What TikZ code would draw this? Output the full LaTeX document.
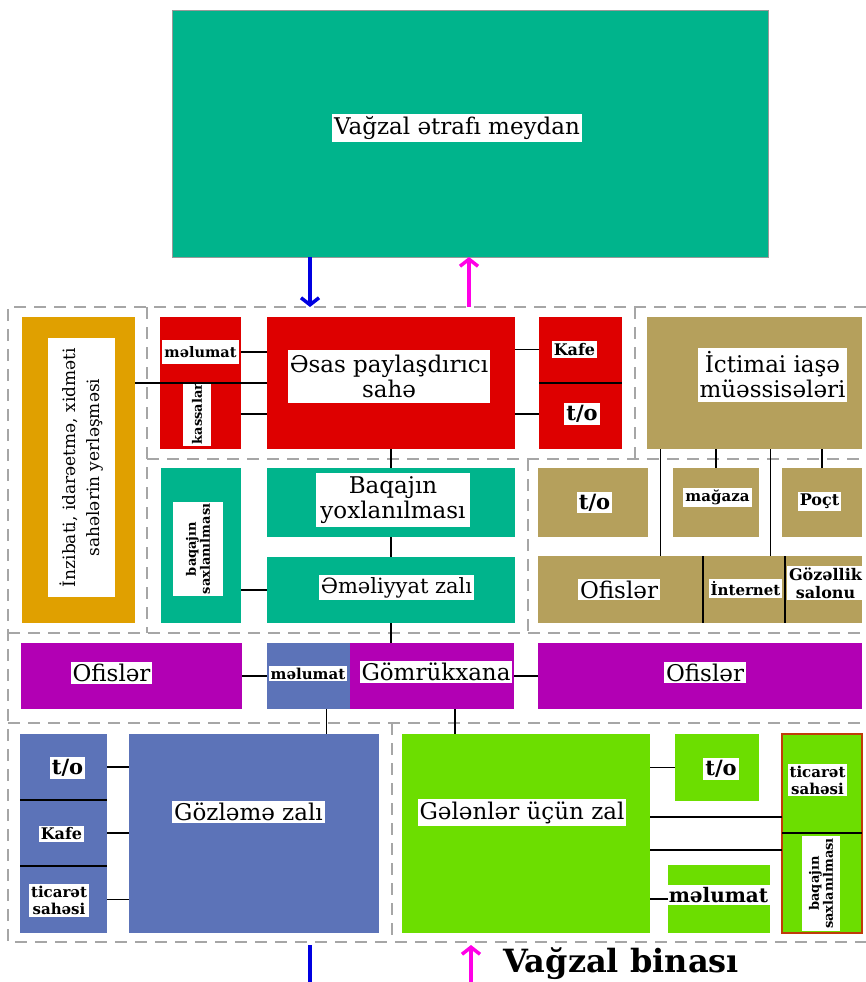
\documentclass[tikz,border=0pt]{standalone}
\usepackage{fontspec}
\setmainfont{DejaVu Serif}
\usepackage{tikz}
\usetikzlibrary{arrows.meta,calc}

\definecolor{meydanc}{RGB}{0,180,140}
\definecolor{goldc}{RGB}{224,160,0}
\definecolor{redc}{RGB}{222,0,0}
\definecolor{tanc}{RGB}{181,160,92}
\definecolor{purc}{RGB}{178,0,180}
\definecolor{bluec}{RGB}{92,115,184}
\definecolor{greenc}{RGB}{108,222,0}
\definecolor{rimc}{RGB}{192,60,10}
\definecolor{arrblue}{RGB}{0,0,225}
\definecolor{arrmag}{RGB}{255,0,230}

\newcommand{\fs}[2]{\fontsize{#1}{#2}\selectfont}

\begin{document}
\begin{tikzpicture}[x=1pt,y=-1pt,
  box/.style={rectangle,inner sep=0pt,outer sep=0pt},
  sz/.style 2 args={minimum width=#1,minimum height=#2},
  lbl/.style={fill=white,inner sep=2pt,align=center},
  big/.style={font=\fs{23}{25}},
  small/.style={font=\fs{15}{17}\bfseries},
  tiny/.style={font=\fs{13}{14}\bfseries},
  zone/.style={draw=black!35,line width=1.3pt,dash pattern=on 12pt off 8pt},
  conn/.style={line width=1.3pt},
  inarr/.style={draw=arrblue,line width=3.5pt,-{Straight Barb[length=7pt,width=18pt]}},
  outarr/.style={draw=arrmag,line width=3.5pt,-{Straight Barb[length=7pt,width=18pt]}}]

\useasboundingbox (0,0) rectangle (866,982);

% square in front of the station
\node[box,fill=meydanc,draw=black!40,line width=0.8pt,sz={596}{247}] (meydan) at (470,133.5) {};
\node[lbl,big] (meydanT) at (457,128) {Vağzal ətrafı meydan};

% dashed zones
\draw[zone] (866,307) -- (8,307) -- (8,942) -- (866,942);
\draw[zone] (147,307) -- (147,633);
\draw[zone] (635,307) -- (635,459);
\draw[zone] (147,459) -- (866,459);
\draw[zone] (528,459) -- (528,633);
\draw[zone] (8,633) -- (866,633);
\draw[zone] (8,723) -- (866,723);
\draw[zone] (392,723) -- (392,942);

% administration
\node[box,fill=goldc,sz={113}{306}] (gold) at (78.5,470) {};
\node[lbl,rotate=90,font=\fs{17}{24},sz={259}{67}] (goldT) at (81.5,467.5) {İnzibati, idarəetmə, xidməti\\sahələrin yerləşməsi};

% red row
\node[box,fill=redc,sz={81}{132}] (redL) at (200.5,383) {};
\node[lbl,font=\fs{14.5}{16}\bfseries,sz={77}{24}] (info1) at (200.5,352) {məlumat};
\node[lbl,rotate=90,tiny,sz={60}{28}] (kassa) at (197,414) {kassalar};
\node[box,fill=redc,sz={248}{132}] (esas) at (391,383) {};
\node[lbl,big,sz={200}{53}] (esasT) at (389,376.5) {Əsas paylaşdırıcı\\sahə};
\node[box,fill=redc,sz={83}{132}] (redR) at (580.5,383) {};
\node[lbl,font=\fs{16}{18}\bfseries] (kafe1) at (574.5,349.5) {Kafe};
\node[lbl,font=\fs{21}{24}\bfseries] (to1) at (582,414) {t/o};

% catering
\node[box,fill=tanc,sz={215}{132}] (iase) at (754.5,383) {};
\node[lbl,big,sz={149}{54}] (iaseT) at (772.5,375) {İctimai iaşə\\müəssisələri};
\node[box,fill=tanc,sz={110}{69}] (tanTo) at (593,502.5) {};
\node[lbl,font=\fs{21}{24}\bfseries] (tanToT) at (594.5,502.5) {t/o};
\node[box,fill=tanc,sz={86}{69}] (magaza) at (716,502.5) {};
\node[lbl,small] (magazaT) at (717.5,497.5) {mağaza};
\node[box,fill=tanc,sz={80}{69}] (poct) at (822,502.5) {};
\node[lbl,font=\fs{16}{18}\bfseries] (poctT) at (819.5,501.5) {Poçt};
\node[box,fill=tanc,sz={165}{67}] (ofisT) at (620.5,589.5) {};
\node[lbl,big] (ofisTT) at (619,589.5) {Ofislər};
\node[box,fill=tanc,sz={82}{67}] (inet) at (744,589.5) {};
\node[lbl,small] (inetT) at (745.5,588.5) {İnternet};
\node[box,fill=tanc,sz={77}{67}] (gozel) at (823.5,589.5) {};
\node[lbl,font=\fs{16}{18}\bfseries] (gozelT) at (825.5,583) {Gözəllik\\salonu};

% baggage
\node[box,fill=meydanc,sz={80}{155}] (bqsax) at (201,545.5) {};
\node[lbl,rotate=90,tiny,sz={90}{50}] (bqsaxT) at (198,549) {baqajın\\saxlanılması};
\node[box,fill=meydanc,sz={248}{69}] (bqyox) at (391,502.5) {};
\node[lbl,big,sz={154}{54}] (bqyoxT) at (393,500) {Baqajın\\yoxlanılması};
\node[box,fill=meydanc,sz={248}{66}] (emel) at (391,590) {};
\node[lbl,font=\fs{21}{24}] (emelT) at (396.5,587.5) {Əməliyyat zalı};

% offices and customs
\node[box,fill=purc,sz={221}{66}] (ofisL) at (131.5,676) {};
\node[lbl,big] (ofisLT) at (111.5,673) {Ofislər};
\node[box,fill=bluec,sz={83}{66}] (info2) at (308.5,676) {};
\node[lbl,small] (info2T) at (308,673.5) {məlumat};
\node[box,fill=purc,sz={164}{66}] (gomruk) at (432,676) {};
\node[lbl,big] (gomrukT) at (436,672) {Gömrükxana};
\node[box,fill=purc,sz={324}{66}] (ofisR) at (700,676) {};
\node[lbl,big] (ofisRT) at (705,672.5) {Ofislər};

% waiting hall
\node[box,fill=bluec,sz={87}{66}] (bto) at (63.5,767) {};
\node[lbl,font=\fs{21}{24}\bfseries] (btoT) at (67.5,768) {t/o};
\node[box,fill=bluec,sz={87}{66}] (bkafe) at (63.5,833) {};
\node[lbl,font=\fs{16}{18}\bfseries] (bkafeT) at (61.5,834) {Kafe};
\node[box,fill=bluec,sz={87}{67}] (btic) at (63.5,899.5) {};
\node[lbl,small] (bticT) at (59,900.5) {ticarət\\sahəsi};
\node[box,fill=bluec,sz={250}{199}] (gozl) at (254,833.5) {};
\node[lbl,big] (gozlT) at (248.5,812) {Gözləmə zalı};

% arrivals hall
\node[box,fill=greenc,sz={248}{199}] (gelen) at (526,833.5) {};
\node[lbl,big] (gelenT) at (522,812.5) {Gələnlər üçün zal};
\node[box,fill=greenc,sz={84}{67}] (gto) at (717,767.5) {};
\node[lbl,font=\fs{21}{24}\bfseries] (gtoT) at (721,769) {t/o};
\node[box,fill=greenc,sz={102}{68}] (minfo) at (719,899) {};
\node[lbl,font=\fs{20}{22}\bfseries] (minfoT) at (718.5,895) {məlumat};
\node[box,fill=greenc,draw=rimc,line width=1.3pt,sz={80}{99}] (rtic) at (822,783.5) {};
\node[lbl,small] (rticT) at (817.5,780) {ticarət\\sahəsi};
\node[box,fill=greenc,draw=rimc,line width=1.3pt,sz={80}{100}] (rbaq) at (822,883) {};
\node[lbl,rotate=90,tiny,sz={91}{38}] (rbaqT) at (821,883.5) {baqajın\\saxlanılması};

% links
\draw[conn] (info1 -| redL.east) -- (info1 -| esas.west);
\draw[conn] (esas.west) -- (esas.west -| gold.east);
\draw[conn] (kassa -| redL.east) -- (kassa -| esas.west);
\draw[conn] (kafe1 -| esas.east) -- (kafe1 -| redR.west);
\draw[conn] (to1 -| esas.east) -- (to1 -| redR.west);
\draw[conn] (redR.west) -- (redR.east);

\coordinate (t1) at ($(tanTo.east)!.5!(magaza.west)$);
\coordinate (t2) at ($(magaza.east)!.5!(poct.west)$);
\draw[conn] (t1 |- iase.south) -- (t1 |- ofisT.north);
\draw[conn] (magaza.north) -- (magaza.north |- iase.south);
\draw[conn] (t2 |- iase.south) -- (t2 |- inet.north);
\draw[conn] (poct.north) -- (poct.north |- iase.south);
\draw[conn] (ofisT.north east) -- (ofisT.south east);
\draw[conn] (inet.north east) -- (inet.south east);

\draw[conn] (esas.south) -- (bqyox.north);
\draw[conn] (bqyox.south) -- (emel.north);
\draw[conn] (emel.west) -- (emel.west -| bqsax.east);
\draw[conn] (emel.south) -- (emel.south |- gomruk.north);

\draw[conn] (ofisL.east) -- (info2.west);
\draw[conn] (gomruk.east) -- (ofisR.west);
\coordinate (d1) at ($(info2.south west)!.72!(info2.south east)$);
\coordinate (d2) at ($(gomruk.south west)!.64!(gomruk.south east)$);
\draw[conn] (d1) -- (d1 |- gozl.north);
\draw[conn] (d2) -- (d2 |- gelen.north);

\foreach \b in {bto,bkafe,btic}
{
\draw[conn] (\b.east) -- (\b.east -| gozl.west);
}
\draw[conn] (bto.south west) -- (bto.south east);
\draw[conn] (bkafe.south west) -- (bkafe.south east);

\draw[conn] (gto.west) -- (gto.west -| gelen.east);
\draw[conn] (minfo.west) -- (minfo.west -| gelen.east);
\coordinate (r1) at ([yshift=16pt]rtic.south west);
\coordinate (r2) at ([yshift=-17pt]rbaq.north west);
\draw[conn] (r1) -- (r1 -| gelen.east);
\draw[conn] (r2) -- (r2 -| gelen.east);
\draw[conn] (rtic.south west) -- (rtic.south east);

% flows in and out
\coordinate (inTop) at (310,307);
\coordinate (outTop) at (469,307);
\draw[inarr] (inTop |- meydan.south) -- (inTop);
\draw[outarr] (outTop) -- (outTop |- meydan.south);

\coordinate (inBot) at (310,945);
\coordinate (inEnd) at (310,982);
\coordinate (outBot) at (471,945);
\coordinate (outEnd) at (471,982);
\draw[draw=arrblue,line width=3.5pt] (inBot) -- (inEnd);
\draw[outarr] (outEnd) -- (outBot);

\node[font=\fs{32}{36}\bfseries] (bina) at (621,964) {Vağzal binası};

\end{tikzpicture}
\end{document}
